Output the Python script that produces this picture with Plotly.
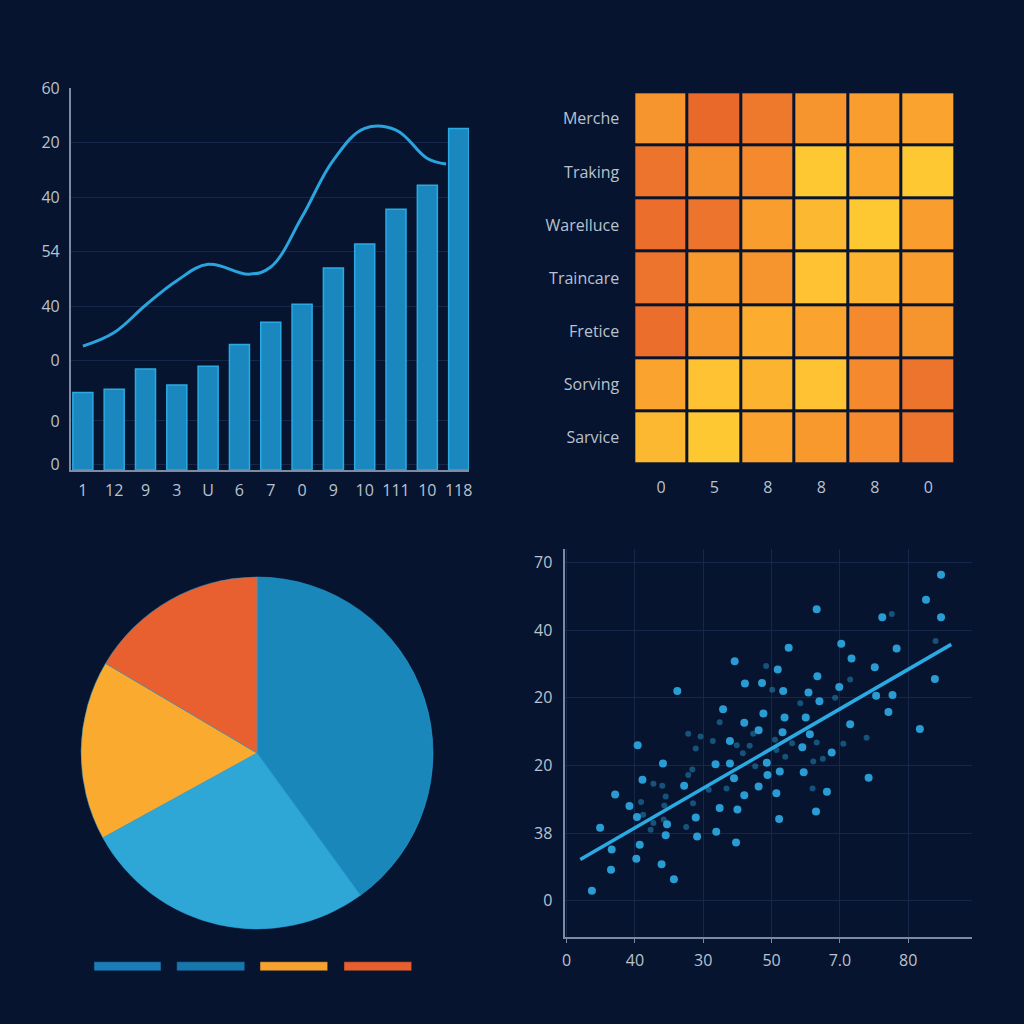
import plotly.graph_objects as go

BG = "#06142f"
GRID = "#16274a"
AXIS = "#7d8aa3"
TXT = "#b9c2d0"
FONT = "Open Sans"

# ---------- top-left: bars + line ----------
bar_labels = ["1", "12", "9", "3", "U", "6", "7", "0", "9", "10", "111", "10", "118"]
bar_x = list(range(13))
bar_values = [14.2, 14.8, 18.5, 15.6, 19.0, 23.0, 27.1, 30.4, 37.0, 41.4, 47.8, 52.2, 62.6]
line_x = [0, 1, 2, 3, 4, 5.3, 6, 7, 8, 9, 10, 11, 11.6]
line_values = [22.7, 25.2, 30.2, 34.7, 37.7, 35.9, 37.2, 46.4, 56.8, 62.6, 62.3, 57.1, 56.1]
bar_yticks = [1, 9, 20, 30, 40, 50, 60, 70]
bar_yticktext = ["0", "0", "0", "40", "54", "40", "20", "60"]

# ---------- top-right: heatmap ----------
heat_rows = ["Merche", "Traking", "Warelluce", "Traincare", "Fretice", "Sorving", "Sarvice"]
heat_cols = ["0", "5", "8", "8", "8", "0"]
heat_values = [
    [45, 5, 20, 45, 55, 60],
    [15, 40, 35, 95, 65, 95],
    [10, 15, 55, 80, 95, 55],
    [15, 50, 45, 90, 75, 55],
    [10, 50, 70, 60, 35, 45],
    [60, 90, 75, 90, 35, 15],
    [80, 95, 60, 50, 35, 15],
]

# ---------- bottom-left: pie ----------
pie_labels = ["A", "B", "C", "D"]
pie_values = [40, 27, 16.5, 16.5]
pie_colors = ["#1a87ba", "#2ea6d6", "#fbaa30", "#e8602f"]
legend_colors = ["#1a7db5", "#1776ab", "#f8a22e", "#e85f2d"]

# ---------- bottom-right: scatter ----------
sc_x = [54.8, 52.6, 36.6, 46.2, 54.8, 40.2, 32.5, 48.3, 41.7, 24.6, 30.9, 45.1, 36.7,
        26.1, 28.6, 53.9, 39.9, 31.7, 16.2, 35.4, 45.3, 47.7, 37.0, 22.9, 47.1, 28.8,
        31.9, 35.0, 26.0, 41.5, 51.7, 28.1, 31.6, 35.6, 23.9, 10.4, 34.5, 38.8, 29.3,
        14.1, 21.8, 23.9, 31.2, 34.7, 29.4, 24.5, 44.2, 11.1, 17.2, 28.1, 38.1, 7.1,
        26.0, 30.7, 9.2, 22.4, 25.0, 36.5, 10.3, 18.9, 31.1, 4.9, 14.7, 21.9, 14.5,
        19.1, 24.8, 10.7, 6.6, 10.2, 6.5, 13.9, 15.7, 3.7]
sc_y = [48.2, 44.5, 43.1, 41.9, 41.9, 38.0, 37.4, 37.3, 35.8, 35.4, 34.2, 34.5, 33.2,
        32.1, 32.2, 32.8, 31.6, 31.0, 31.0, 30.8, 30.3, 30.4, 29.5, 28.3, 27.9, 27.7,
        27.1, 27.1, 26.3, 26.1, 25.4, 25.2, 24.9, 24.6, 23.6, 23.0, 22.7, 21.9, 20.4,
        20.3, 20.2, 20.3, 19.1, 19.0, 18.6, 18.1, 18.2, 17.9, 17.0, 16.9, 16.1, 15.7,
        15.6, 15.9, 14.0, 13.7, 13.5, 13.2, 12.4, 12.3, 12.1, 10.8, 11.3, 10.2, 9.7,
        9.5, 8.6, 8.3, 7.6, 6.2, 4.6, 5.4, 3.2, 1.5]
faint_x = [47.6, 54.0, 29.2, 41.5, 30.1, 39.3, 34.2, 22.4, 27.3, 17.8, 19.6, 21.4,
           24.9, 26.8, 30.5, 43.9, 36.6, 40.5, 33.0, 18.9, 30.7, 25.8, 32.0, 18.4,
           27.6, 36.1, 37.5, 17.8, 14.0, 12.7, 20.8, 23.4, 36.0, 14.5, 10.9, 14.3,
           18.5, 11.2, 14.2, 12.7, 12.3, 17.5]
faint_y = [42.4, 38.4, 34.7, 32.7, 31.2, 30.0, 29.2, 26.4, 24.7, 24.7, 24.3, 23.6,
           23.0, 22.9, 23.8, 24.1, 23.4, 23.2, 23.3, 22.5, 22.3, 21.8, 21.3, 19.4,
           19.9, 20.6, 21.0, 18.6, 17.0, 17.3, 16.4, 16.6, 16.6, 15.4, 14.6, 14.1,
           14.4, 12.7, 12.0, 11.5, 10.5, 10.9]
fit_x = [2.0, 56.3]
fit_y = [6.1, 37.9]
sc_xticks = [0, 10, 20, 30, 40, 50]
sc_xticktext = ["0", "40", "30", "50", "7.0", "80"]
sc_yticks = [0, 10, 20, 30, 40, 50]
sc_yticktext = ["0", "38", "20", "20", "40", "70"]

fig = go.Figure()

# bars
fig.add_trace(go.Bar(x=bar_x, y=bar_values, width=0.64,
                     marker=dict(color="#1a88bf", line=dict(color="#2aa9e2", width=1.5)),
                     xaxis="x", yaxis="y", showlegend=False))
fig.add_trace(go.Scatter(x=line_x, y=line_values, mode="lines",
                         line=dict(color="#2aa4dc", width=3, shape="spline", smoothing=1.1),
                         xaxis="x", yaxis="y", showlegend=False))

# heatmap
fig.add_trace(go.Heatmap(z=heat_values, x=list(range(6)), y=list(range(7)),
                         colorscale=[[0, "#e7632b"], [0.35, "#f48a2d"], [0.65, "#fba82e"], [1, "#ffcd34"]],
                         zmin=0, zmax=100, xgap=3, ygap=3, showscale=False,
                         xaxis="x2", yaxis="y2"))

# pie
fig.add_trace(go.Pie(values=pie_values, labels=pie_labels, sort=False, direction="clockwise",
                     rotation=0, textinfo="none", hoverinfo="none",
                     marker=dict(colors=pie_colors, line=dict(color="#2aa9e2", width=0.5)),
                     domain=dict(x=[0.0791, 0.4229], y=[0.0928, 0.4365]), showlegend=False))

# scatter
fig.add_trace(go.Scatter(x=faint_x, y=faint_y, mode="markers",
                         marker=dict(color="#2a9fd6", size=6, opacity=0.45),
                         xaxis="x3", yaxis="y3", showlegend=False))
fig.add_trace(go.Scatter(x=sc_x, y=sc_y, mode="markers",
                         marker=dict(color="#2ba3dc", size=8, opacity=0.95),
                         xaxis="x3", yaxis="y3", showlegend=False))
fig.add_trace(go.Scatter(x=fit_x, y=fit_y, mode="lines",
                         line=dict(color="#2aa9e2", width=3.5),
                         xaxis="x3", yaxis="y3", showlegend=False))

# legend swatches under the pie
sw_x = [(0.0918, 0.1572), (0.1726, 0.2390), (0.2539, 0.3200), (0.3359, 0.4020)]
shapes = []
for (x0, x1), c in zip(sw_x, legend_colors):
    shapes.append(dict(type="rect", xref="paper", yref="paper", x0=x0, x1=x1,
                       y0=0.0519, y1=0.0608, fillcolor=c, line=dict(width=0.5, color="#0c2040")))

tickfont = dict(family=FONT, size=16, color=TXT)

fig.update_layout(
    template="none",
    width=1024, height=1024, margin=dict(l=0, r=0, t=0, b=0, pad=0),
    paper_bgcolor=BG, plot_bgcolor=BG, font=dict(family=FONT, color=TXT),
    shapes=shapes, bargap=0.36,
    xaxis=dict(domain=[0.069, 0.458], range=[-0.39, 12.33], tickvals=bar_x, ticktext=bar_labels,
               showgrid=False, zeroline=False, showline=True, linecolor=AXIS, linewidth=1.5,
               ticks="", tickfont=tickfont, ticklabelstandoff=5, anchor="y", automargin=False),
    yaxis=dict(domain=[0.541, 0.914], range=[0, 70], tickvals=bar_yticks, ticktext=bar_yticktext,
               showgrid=True, gridcolor=GRID, zeroline=False, showline=True, linecolor=AXIS,
               linewidth=1.5, ticks="", tickfont=tickfont, ticklabelstandoff=6, anchor="x",
               automargin=False),
    xaxis2=dict(domain=[0.6194, 0.9326], range=[-0.5, 5.5], tickvals=list(range(6)),
                ticktext=heat_cols, showgrid=False, zeroline=False, showline=False, ticks="",
                tickfont=tickfont, ticklabelstandoff=12, anchor="y2", automargin=False),
    yaxis2=dict(domain=[0.5466, 0.9099], range=[6.5, -0.5], tickvals=list(range(7)),
                ticktext=heat_rows, showgrid=False, zeroline=False, showline=False, ticks="",
                tickfont=tickfont, ticklabelstandoff=14, anchor="x2", automargin=False),
    xaxis3=dict(domain=[0.552, 0.949], range=[-0.2, 59.3], tickvals=sc_xticks, ticktext=sc_xticktext,
                showgrid=True, gridcolor=GRID, zeroline=False, showline=True, linecolor=AXIS,
                linewidth=1.5, ticks="outside", ticklen=5, tickcolor=AXIS,
                tickfont=tickfont, ticklabelstandoff=3, anchor="y3", automargin=False),
    yaxis3=dict(domain=[0.0853, 0.4639], range=[-5.3, 52], tickvals=sc_yticks, ticktext=sc_yticktext,
                showgrid=True, gridcolor=GRID, zeroline=False, showline=True, linecolor=AXIS,
                linewidth=1.5, ticks="", tickfont=tickfont, ticklabelstandoff=8, anchor="x3",
                automargin=False),
)

fig.write_html("out.html")
